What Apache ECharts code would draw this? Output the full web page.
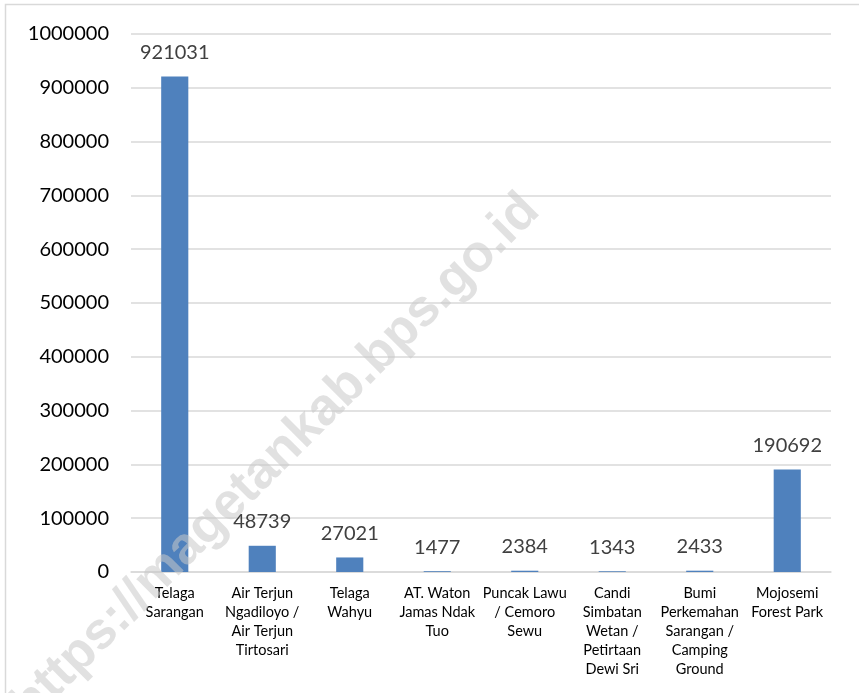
<!DOCTYPE html>
<html>
<head>
<meta charset="utf-8">
<script src="https://cdn.jsdelivr.net/npm/echarts@6/dist/echarts.min.js"></script>
<style>
  html, body { margin: 0; padding: 0; background: #fff; }
  #chart { width: 859px; height: 693px; }
</style>
</head>
<body>
<div id="chart"></div>
<script>
// tourist sites (wrapped the same way as the source picture)
const categories = [
  'Telaga\nSarangan',
  'Air Terjun\nNgadiloyo /\nAir Terjun\nTirtosari',
  'Telaga\nWahyu',
  'AT. Waton\nJamas Ndak\nTuo',
  'Puncak Lawu\n/ Cemoro\nSewu',
  'Candi\nSimbatan\nWetan /\nPetirtaan\nDewi Sri',
  'Bumi\nPerkemahan\nSarangan /\nCamping\nGround',
  'Mojosemi\nForest Park'
]
const visitors = [921031, 48739, 27021, 1477, 2384, 1343, 2433, 190692]
const yMin = 0
const yMax = 1000000
const yStep = 100000
const watermark = 'https://magetankab.bps.go.id'

const chart = echarts.init(document.getElementById('chart'))
const font = 'Lato, "Open Sans", sans-serif'

chart.setOption({
  animation: false,
  textStyle: { fontFamily: font },
  grid: {
    left: 131,
    right: 28,
    top: 34,
    bottom: 121
  },
  xAxis: {
    type: 'category',
    data: categories,
    axisLine: {
      lineStyle: { color: '#d9d9d9', width: 1.5 }
    },
    axisTick: { show: false },
    axisLabel: {
      color: '#000',
      fontSize: 14.5,
      lineHeight: 19,
      margin: 12,
      interval: 0,
      align: 'center'
    }
  },
  yAxis: {
    type: 'value',
    min: yMin,
    max: yMax,
    interval: yStep,
    axisLine: { show: false },
    axisTick: { show: false },
    axisLabel: {
      color: '#000',
      fontSize: 20,
      margin: 22,
      formatter: v => String(v)
    },
    splitLine: {
      lineStyle: { color: '#d9d9d9', width: 1.5 }
    }
  },
  series: [{
    type: 'bar',
    data: visitors,
    barWidth: '31%',
    itemStyle: { color: '#4f81bd' },
    label: {
      show: true,
      position: 'top',
      distance: 14,
      color: '#404040',
      fontSize: 20
    },
    z: 2
  }],
  graphic: [
    // chart frame
    {
      type: 'polyline',
      shape: { points: [[5.5, 693], [5.5, 4.5], [859, 4.5]] },
      style: { stroke: '#d9d9d9', lineWidth: 1.5, fill: null },
      silent: true
    },
    // watermark
    {
      type: 'text',
      x: 276,
      y: 458,
      rotation: 45 * Math.PI / 180,
      z: 100,
      silent: true,
      style: {
        text: watermark,
        fill: 'rgba(200,200,200,0.55)',
        font: 'bold 52px "Liberation Sans", Arial, sans-serif',
        textAlign: 'center',
        textVerticalAlign: 'middle'
      }
    }
  ]
})
</script>
</body>
</html>
